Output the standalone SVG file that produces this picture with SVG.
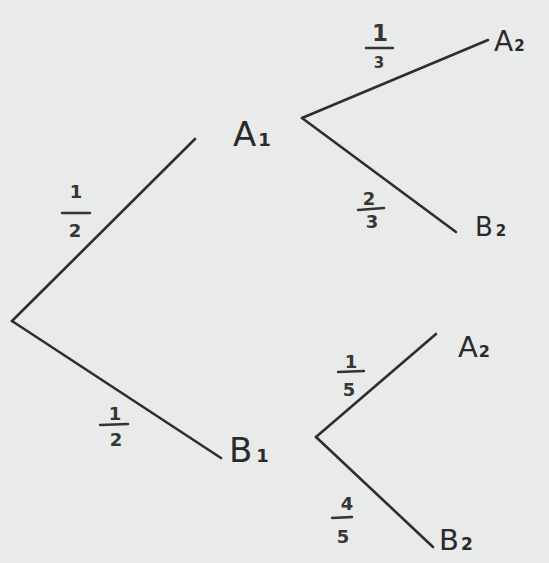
<svg xmlns="http://www.w3.org/2000/svg" width="549" height="563" viewBox="0 0 549 563">
<style>
.bg{fill:#e8ebe9}
.edge{stroke:#2e2e2e;stroke-width:2.6;stroke-linecap:round;fill:none}
.bar{stroke:#333;stroke-width:2.4;stroke-linecap:round}
.lbl{font-family:"DejaVu Sans","Liberation Sans",sans-serif;fill:#2a2a2a;font-size:34px}
.sub{font-family:"DejaVu Sans","Liberation Sans",sans-serif;fill:#2a2a2a;font-size:18px;font-weight:bold}
.num{font-family:"DejaVu Sans","Liberation Sans",sans-serif;fill:#363636;font-size:18px;font-weight:bold;text-anchor:middle}
</style>
<rect class="bg" x="0" y="0" width="549" height="563"/>
<g id="connectors">
<line class="edge" x1="12" y1="321" x2="195" y2="139"/>
<line class="edge" x1="12" y1="321" x2="221" y2="458"/>
<line class="edge" x1="302" y1="118" x2="488" y2="40"/>
<line class="edge" x1="302" y1="118" x2="456" y2="232"/>
<line class="edge" x1="316" y1="437" x2="436" y2="334"/>
<line class="edge" x1="316" y1="437" x2="433" y2="547"/>
</g>
<g id="p-root-A1">
<text class="num" x="76" y="198">1</text><line class="bar" x1="62" y1="213" x2="90" y2="213"/><text class="num" x="75" y="237">2</text>
</g>
<g id="p-root-B1">
<text class="num" x="115" y="420">1</text><line class="bar" x1="100" y1="425" x2="128" y2="424"/><text class="num" x="116" y="446">2</text>
</g>
<g id="p-A1-A2">
<text class="num" x="380" y="41" style="font-size:23px">1</text><line class="bar" x1="366" y1="48" x2="393" y2="48"/><text class="num" x="379" y="68" style="font-size:15px">3</text>
</g>
<g id="p-A1-B2">
<text class="num" x="369" y="205">2</text><line class="bar" x1="358" y1="210" x2="384" y2="208"/><text class="num" x="372" y="228">3</text>
</g>
<g id="p-B1-A2">
<text class="num" x="351" y="368">1</text><line class="bar" x1="338" y1="372" x2="364" y2="371"/><text class="num" x="349" y="396">5</text>
</g>
<g id="p-B1-B2">
<text class="num" x="347" y="510">4</text><line class="bar" x1="332" y1="518" x2="352" y2="517"/><text class="num" x="343" y="543">5</text>
</g>
<g id="A1"><text class="lbl" x="233" y="146">A<tspan class="sub" dx="2">1</tspan></text></g>
<g id="B1"><text class="lbl" x="229" y="462">B<tspan class="sub" dx="4">1</tspan></text></g>
<g id="A2-top"><text class="lbl" x="494" y="51" style="font-size:28px">A<tspan class="sub" style="font-size:15px" dx="1">2</tspan></text></g>
<g id="B2-top"><text class="lbl" x="475" y="236" style="font-size:26px">B<tspan class="sub" style="font-size:15px" dx="3">2</tspan></text></g>
<g id="A2-bottom"><text class="lbl" x="458" y="357" style="font-size:29px">A<tspan class="sub" style="font-size:16px" dx="1">2</tspan></text></g>
<g id="B2-bottom"><text class="lbl" x="439" y="550" style="font-size:29px">B<tspan class="sub" style="font-size:17px" dx="2">2</tspan></text></g>
</svg>
